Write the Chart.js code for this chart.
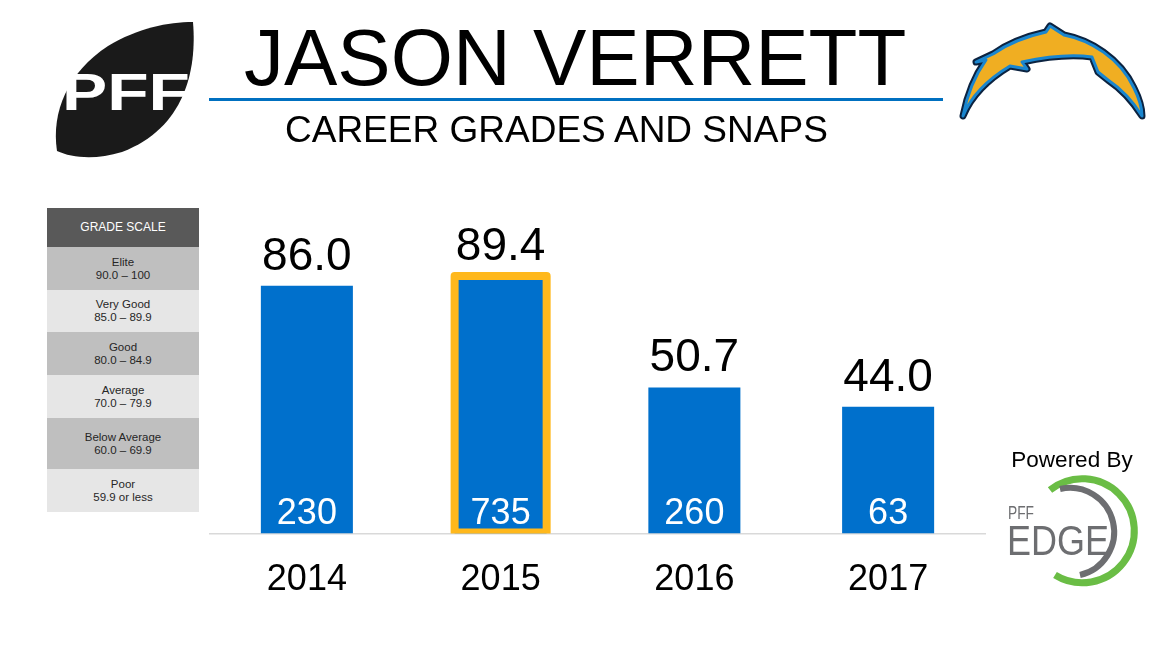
<!DOCTYPE html>
<html>
<head>
<meta charset="utf-8">
<script src="https://cdn.jsdelivr.net/npm/chart.js@4/dist/chart.umd.min.js"></script>
<style>
  body { margin: 0; background: #fff; font-family: "Liberation Sans", Arial, sans-serif; }
  #wrap { position: relative; width: 1152px; height: 648px; overflow: hidden; }
  #chart { position: absolute; left: 0; top: 0; }
  .abs { position: absolute; }
  #title { left: 244px; top: 11.5px; font-size: 80px; line-height: 92px; color: #000; white-space: nowrap; }
  #rule { left: 209px; top: 98px; width: 734px; height: 3px; background: #0070C0; }
  #sub { left: 285px; top: 108px; font-size: 37px; line-height: 44px; color: #000; white-space: nowrap; }
  #scale { left: 47px; top: 208px; width: 152px; }
  #scale div { text-align: center; color: #262626; font-size: 11.5px; line-height: 13px; display: flex; flex-direction: column; justify-content: center; }
  #scale .hd { background: #595959; color: #fff; font-size: 12px; }
  #scale .dk { background: #bfbfbf; }
  #scale .lt { background: #e6e6e6; }
</style>
</head>
<body>
<div id="wrap">
  <canvas id="chart" width="1152" height="648"></canvas>

  <div id="title" class="abs">JASON VERRETT</div>
  <div id="rule" class="abs"></div>
  <div id="sub" class="abs">CAREER GRADES AND SNAPS</div>

  <div id="scale" class="abs">
    <div class="hd" style="height:39px">GRADE SCALE</div>
    <div class="dk" style="height:43px">Elite<br>90.0 – 100</div>
    <div class="lt" style="height:42px">Very Good<br>85.0 – 89.9</div>
    <div class="dk" style="height:43px">Good<br>80.0 – 84.9</div>
    <div class="lt" style="height:43px">Average<br>70.0 – 79.9</div>
    <div class="dk" style="height:51px">Below Average<br>60.0 – 69.9</div>
    <div class="lt" style="height:43px">Poor<br>59.9 or less</div>
  </div>

  <!-- PFF logo -->
  <svg class="abs" style="left:0;top:0" width="240" height="170">
    <path d="M 193 22 C 197 70, 185 128, 122 152 C 96 160, 72 158, 57 151 C 51 112, 68 72, 108 46 C 138 28, 168 22, 193 22 Z" fill="#1a1a1a"/>
    <text x="62" y="110" font-family="Liberation Sans, Arial" font-weight="bold" font-size="52" fill="#fff" textLength="128" lengthAdjust="spacingAndGlyphs">PFF</text>
  </svg>

  <!-- bolt logo -->
  <svg class="abs" style="left:940px;top:0" width="212" height="140">
    <g transform="translate(-940,0)">
      <path d="M 963 116 C 968 90, 976 74, 986 60 L 976 62 L 993 54 C 1010 42, 1028 36, 1046 32 L 1050 26 L 1064 35 C 1090 40, 1120 58, 1134 88 C 1139 98, 1142 108, 1142 116 C 1132 100, 1120 88, 1108 80 L 1098 72 L 1092 57 C 1070 54, 1045 57, 1022 62 L 1027 69 L 1010 66 C 990 78, 972 94, 963 116 Z"
        fill="none" stroke="#0c2340" stroke-width="7" stroke-linejoin="round"/>
      <path d="M 963 116 C 968 90, 976 74, 986 60 L 976 62 L 993 54 C 1010 42, 1028 36, 1046 32 L 1050 26 L 1064 35 C 1090 40, 1120 58, 1134 88 C 1139 98, 1142 108, 1142 116 C 1132 100, 1120 88, 1108 80 L 1098 72 L 1092 57 C 1070 54, 1045 57, 1022 62 L 1027 69 L 1010 66 C 990 78, 972 94, 963 116 Z"
        fill="#f0ae22" stroke="#1a86cf" stroke-width="3" stroke-linejoin="round"/>
    </g>
  </svg>

  <!-- PFF EDGE logo -->
  <svg class="abs" style="left:990px;top:440px" width="162" height="160">
    <g transform="translate(-990,-440)">
      <text x="1072" y="467" text-anchor="middle" font-family="Liberation Sans, Arial" font-size="22.5" fill="#000">Powered By</text>
      <path d="M 1050 490 A 52 52 0 1 1 1055 575" fill="none" stroke="#6abd45" stroke-width="7"/>
      <path d="M 1060 489 A 44 44 0 1 1 1080 575" fill="none" stroke="#6d6e71" stroke-width="6"/>
      <text x="1008" y="519" font-family="Liberation Sans, Arial" font-size="18" fill="#6d6e71" textLength="26" lengthAdjust="spacingAndGlyphs">PFF</text>
      <text x="1007" y="555" font-family="Liberation Sans, Arial" font-size="43" fill="#6d6e71" textLength="102" lengthAdjust="spacingAndGlyphs">EDGE</text>
    </g>
  </svg>
</div>

<script>
// career data
const seasons = ["2014", "2015", "2016", "2017"];
const grades = [86.0, 89.4, 50.7, 44.0];
const snaps = [230, 735, 260, 63];
const bestSeason = "2015";

const barBlue = "#0070cc";
const gold = "#ffb81c";
const fontName = "'Liberation Sans', Arial, sans-serif";

const labelsPlugin = {
    id: "barLabels",
    afterDatasetsDraw(chart) {
        const ctx = chart.ctx;
        const meta = chart.getDatasetMeta(0);
        const area = chart.chartArea;

        meta.data.forEach((bar, i) => {
            const p = bar.getProps(["x", "y", "base", "width"], true);

            if (seasons[i] === bestSeason) {
                ctx.save();
                ctx.beginPath();
                ctx.rect(0, 0, chart.width, area.bottom);
                ctx.clip();
                ctx.strokeStyle = gold;
                ctx.lineWidth = 8;
                ctx.lineJoin = "round";
                ctx.strokeRect(p.x - p.width / 2, p.y, p.width, p.base - p.y - 1);
                ctx.restore();
            }

            ctx.save();
            ctx.textAlign = "center";
            ctx.textBaseline = "alphabetic";
            ctx.fillStyle = "#000";
            ctx.font = "46px " + fontName;
            ctx.fillText(grades[i].toFixed(1), p.x, p.y - 16);

            ctx.fillStyle = "#fff";
            ctx.font = "36px " + fontName;
            ctx.fillText(String(snaps[i]), p.x, p.base - 10);
            ctx.restore();
        });
    }
};

new Chart(document.getElementById("chart"), {
    type: "bar",
    data: {
        labels: seasons,
        datasets: [{
            data: grades,
            backgroundColor: barBlue,
            borderWidth: 0,
            barPercentage: 0.475,
            categoryPercentage: 1
        }]
    },
    options: {
        responsive: false,
        animation: false,
        layout: {
            padding: { left: 210, right: 167, top: 245.5, bottom: 22.3 }
        },
        plugins: {
            legend: { display: false },
            tooltip: { enabled: false }
        },
        scales: {
            x: {
                grid: { display: false, drawTicks: false },
                border: { display: true, color: "#d9d9d9", width: 1.5 },
                ticks: {
                    color: "#000",
                    padding: 24.5,
                    font: { family: fontName, size: 36 }
                }
            },
            y: {
                display: false,
                min: 0,
                max: 100
            }
        }
    },
    plugins: [labelsPlugin]
});
</script>
</body>
</html>
